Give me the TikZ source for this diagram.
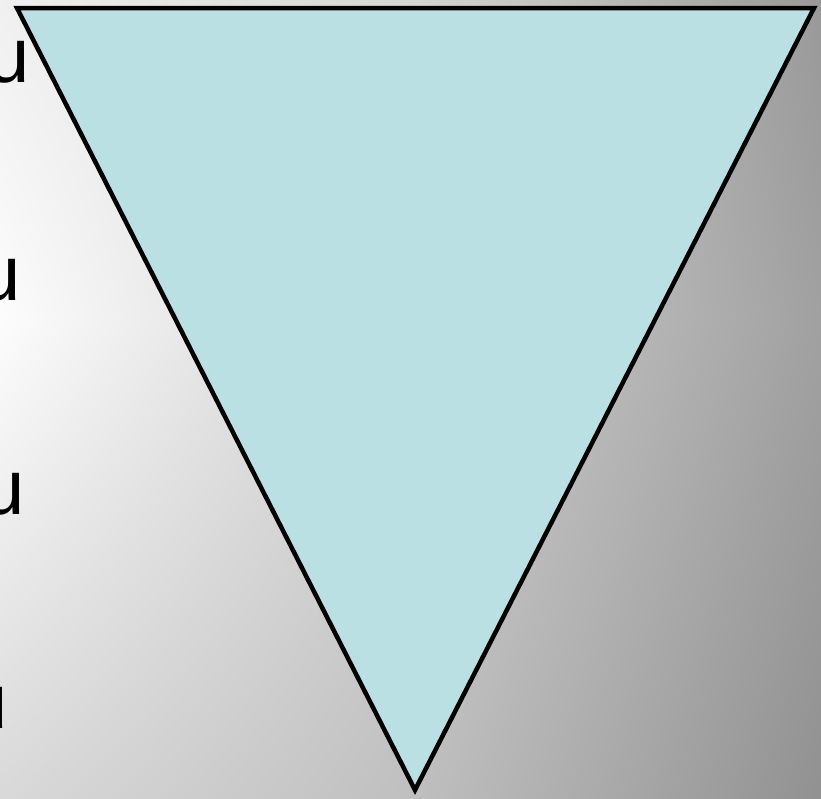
\documentclass[tikz,border=0pt]{standalone}
\usepackage{fontspec}
\setmainfont{Liberation Sans}
\usepackage{xcolor}
\usetikzlibrary{calc, positioning, shadings}
\definecolor{tamgiac}{RGB}{187,224,228}

\begin{document}
\begin{tikzpicture}[x=1pt, y=-1pt, line join=miter,
    chu/.style={anchor=base east, inner sep=0pt, font=\fontsize{78}{90}\selectfont}]
    % Khung và nền
    \useasboundingbox (0,0) rectangle (821,798);
    \clip (0,0) rectangle (821,798);
    \shade[upper left=black!6, upper right=black!16, lower left=black!1, lower right=black!18]
        (0,0) rectangle (411,320);
    \shade[upper left=black!16, upper right=black!40, lower left=black!18, lower right=black!37]
        (410,0) rectangle (821,320);
    \shade[upper left=black!1, upper right=black!18, lower left=black!15, lower right=black!25]
        (0,319) rectangle (411,798);
    \shade[upper left=black!18, upper right=black!37, lower left=black!25, lower right=black!43]
        (410,319) rectangle (821,798);

    % Chữ bên trái
    \node[chu] (u1) at (30,82) {u};
    \node[chu] (u2) at (21,300) {u};
    \node[chu] (u3) at (25,514) {u};
    \node[chu] (u4) at (8,728) {u};

    % Tam giác ngược
    \coordinate (A) at (17,8);
    \coordinate (B) at (814,8);
    \coordinate (C) at (415,790);
    \draw[line width=4.5pt, fill=tamgiac] (A) -- (B) -- (C) -- cycle;
\end{tikzpicture}
\end{document}
